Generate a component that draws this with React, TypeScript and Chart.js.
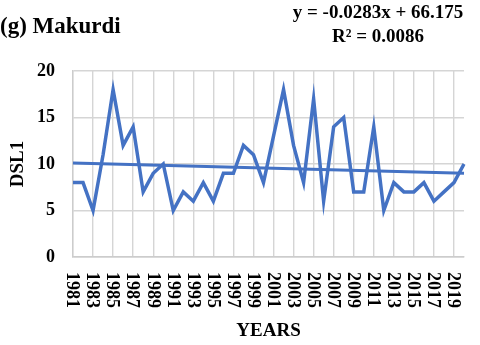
import React, { useEffect, useRef } from "react";
import { Chart, registerables } from "chart.js";
Chart.register(...registerables);

const years = [
  "1981", "1982", "1983", "1984", "1985", "1986", "1987", "1988", "1989", "1990",
  "1991", "1992", "1993", "1994", "1995", "1996", "1997", "1998", "1999", "2000",
  "2001", "2002", "2003", "2004", "2005", "2006", "2007", "2008", "2009", "2010",
  "2011", "2012", "2013", "2014", "2015", "2016", "2017", "2018", "2019", "2020",
];
const dsl1 = [
  8, 8, 5, 11, 18, 12, 14, 7, 9, 10,
  5, 7, 6, 8, 6, 9, 9, 12, 11, 8,
  13, 18, 12, 8, 17, 6, 14, 15, 7, 7,
  14, 5, 8, 7, 7, 8, 6, 7, 8, 10,
];
const trendEnds = [10.1, 9.0];
const yMin = 0;
const yMax = 20;
const yStep = 5;
const titleText = "(g) Makurdi";
const equationLines = ["y = -0.0283x + 66.175", "R² = 0.0086"];
const xTitle = "YEARS";
const yTitle = "DSL1";

const FONT = "'Liberation Serif', 'Times New Roman', serif";
const BLUE = "#4472C4";
const GRID = "#d5d5d5";
const AXIS = "#cccccc";

export default function App() {
  const ref = useRef<HTMLCanvasElement>(null);
  useEffect(() => {
    if (!ref.current) return;
    const last = years.length - 1;
    const trend = years.map((_, i) => (i === 0 ? trendEnds[0] : i === last ? trendEnds[1] : null));

    const textPlugin = {
      id: "texts",
      afterDraw(chart: any) {
        const { ctx, chartArea } = chart;
        const xs = chart.scales.x;
        ctx.save();
        ctx.fillStyle = "#000";
        ctx.font = `bold 18px ${FONT}`;
        ctx.textAlign = "left";
        ctx.textBaseline = "middle";
        years.forEach((y, i) => {
          if (i % 2 !== 0) return;
          const px = xs.getPixelForTick(i);
          ctx.save();
          ctx.translate(px - 1, chartArea.bottom + 15);
          ctx.rotate(Math.PI / 2);
          ctx.fillText(y, 0, 0);
          ctx.restore();
        });
        ctx.textBaseline = "alphabetic";
        ctx.font = `bold 23px ${FONT}`;
        ctx.fillText(titleText, 0, 33);
        ctx.font = `bold 19px ${FONT}`;
        ctx.textAlign = "center";
        ctx.fillText(equationLines[0], 378, 18);
        ctx.fillText(equationLines[1], 378, 42);
        ctx.restore();
      },
    };

    const chart = new Chart(ref.current, {
      type: "line",
      data: {
        labels: years,
        datasets: [
          {
            label: "DSL1",
            data: dsl1,
            borderColor: BLUE,
            backgroundColor: BLUE,
            borderWidth: 3.5,
            pointRadius: 0,
            tension: 0,
          },
          {
            label: "Linear (DSL1)",
            data: trend,
            borderColor: BLUE,
            backgroundColor: BLUE,
            borderWidth: 3,
            pointRadius: 0,
            spanGaps: true,
            tension: 0,
          },
        ],
      },
      options: {
        responsive: false,
        animation: false,
        events: [],
        layout: { padding: { top: 71, right: 16, left: 0, bottom: 0 } },
        plugins: {
          legend: { display: false },
          title: { display: false },
          tooltip: { enabled: false },
        },
        scales: {
          x: {
            type: "category",
            offset: false,
            grid: {
              drawTicks: false,
              color: (c: any) => (c.index % 2 === 0 ? GRID : "rgba(0,0,0,0)"),
              lineWidth: 1.4,
            },
            border: { display: true, color: AXIS, width: 1.4 },
            ticks: { display: false, autoSkip: false },
            title: {
              display: true,
              text: xTitle,
              color: "#000",
              font: { family: FONT, size: 19, weight: "bold" },
              padding: { top: 4, bottom: 3 },
            },
            afterFit: (s: any) => {
              s.height = 88;
            },
          },
          y: {
            min: yMin,
            max: yMax,
            grid: { drawTicks: false, color: GRID, lineWidth: 1.4 },
            border: { display: true, color: AXIS, width: 1.4 },
            ticks: {
              stepSize: yStep,
              padding: 18,
              color: "#000",
              font: { family: FONT, size: 18, weight: "bold" },
            },
            title: {
              display: true,
              text: yTitle,
              color: "#000",
              font: { family: FONT, size: 19, weight: "bold" },
              padding: { top: 7, bottom: 0 },
            },
            afterFit: (s: any) => {
              s.width = 73;
            },
          },
        },
      },
      plugins: [textPlugin],
    });
    return () => chart.destroy();
  }, []);

  return (
    <div style={{ position: "absolute", left: 0, top: 0, width: 480, height: 345, background: "#fff" }}>
      <canvas ref={ref} width={480} height={345} style={{ display: "block" }} />
    </div>
  );
}
